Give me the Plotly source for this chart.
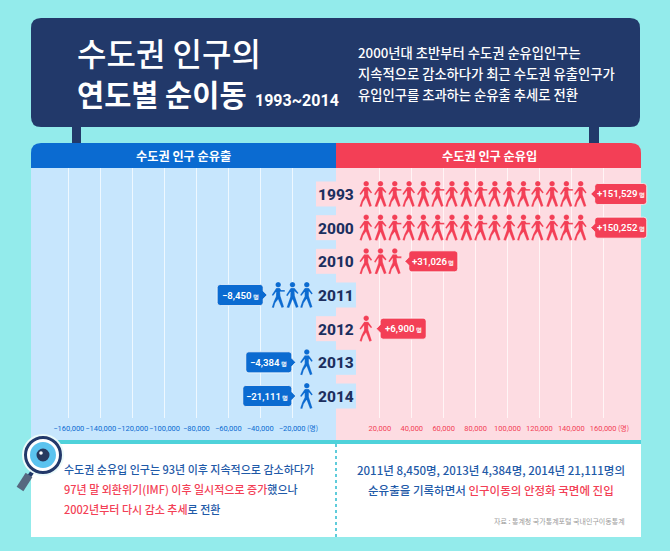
"""Net migration into the capital region by year, 1993-2014."""

import plotly.graph_objs as go

W = 670
H = 551

# data
YEARS = ["1993", "2000", "2010", "2011", "2012", "2013", "2014"]
NET_MIGRATION = [151529, 150252, 31026, -8450, 6900, -4384, -21111]
ICON_COUNTS = [16, 16, 3, 3, 1, 1, 1]
TICKS_RIGHT = [20000, 40000, 60000, 80000, 100000, 120000, 140000, 160000]
TICKS_LEFT = [-160000, -140000, -120000, -100000, -80000, -60000, -40000, -20000]

TITLE_LINES = ["수도권 인구의", "연도별 순이동"]
TITLE_YEARS = "1993~2014"
SUMMARY_LINES = [
    "2000년대 초반부터 수도권 순유입인구는",
    "지속적으로 감소하다가 최근 수도권 유출인구가",
    "유입인구를 초과하는 순유출 추세로 전환",
]
HEADER_OUT = "수도권 인구 순유출"
HEADER_IN = "수도권 인구 순유입"
SOURCE = "자료 : 통계청 국가통계포털 국내인구이동통계"
UNIT = "명"

BG = "#93ebeb"
NAVY = "#22396a"
BLUE = "#0b6bd1"
RED = "#f33f56"
PANEL_BLUE = "#c7e6fd"
PANEL_RED = "#fddce2"
TEAL = "#4fd2da"
TEXT_BLUE = "#1f5aa8"

KR = "Noto Sans CJK KR"
NUM = "Roboto"

# one axis unit in pixels, both panels share it
UNITS_PER_PX = 627.0
ICON_START = 17.7 * UNITS_PER_PX
ICON_STEP = 14.3 * UNITS_PER_PX
X_EDGE_OUTER_LEFT = 183700
X_EDGE_OUTER_RIGHT = 192500  # right axis runs past the panel so the badges are not clipped
X_EDGE_INNER = 7520

HEAD = [(3.3, 10.3), (3.3, 12), (2, 13.1), (0.5, 13.1), (-1, 13.1), (-2.3, 12), (-2.3, 10.3),
        (-2.3, 8.7), (-1, 7.5), (0.5, 7.5), (2, 7.5), (3.3, 8.7), (3.3, 10.3)]
POSES = [
    [(-1.5, -7), (2.5, -7), (6.5, -1.5), (5.3, -0.4), (2.6, -3.5), (2.6, 1), (6.2, 12), (3.7, 13),
     (0.3, 4), (-2.5, 8), (-4, 13), (-6.2, 12.4), (-4.2, 6.5), (-1.7, 1.5), (-1.7, -3), (-5, 1), (-6.3, 0)],
    [(-1.3, -7), (2.6, -7), (6.6, -2), (5.5, -0.9), (2.6, -3.6), (2.9, 1), (6.6, 12), (4, 13),
     (0.6, 4.5), (-2.8, 13), (-5.4, 12.4), (-1.8, 2), (-1.6, -3), (-4.6, 1.3), (-6, 0.3)],
    [(-1.5, -7), (2.2, -7), (3.4, -5), (7.2, -5), (7.2, -3.2), (2.4, -3.2), (2.8, 1), (6.4, 12), (3.9, 13),
     (0.4, 4.4), (-2.4, 8), (-3.8, 13), (-6, 12.4), (-4, 6.5), (-1.8, 1.5), (-1.6, -3), (-4.7, 1), (-6, 0)],
]


def px(x):
    return x / W


def py(y):
    return 1 - y / H


def pose_path(points):
    body = "M " + " L ".join(f"{x},{-y}" for x, y in points) + " Z"
    head = f"M {HEAD[0][0]},{HEAD[0][1]}"
    for i in range(1, len(HEAD), 3):
        head += " C " + " ".join(f"{x},{y}" for x, y in HEAD[i:i + 3])
    return body + " " + head + " Z"


def rounded(x0, y0, x1, y1, r):
    """Rounded rectangle in paper coordinates, given in picture pixels."""
    return (f"M {px(x0)},{py(y0 + r)} Q {px(x0)},{py(y0)} {px(x0 + r)},{py(y0)} L {px(x1 - r)},{py(y0)} "
            f"Q {px(x1)},{py(y0)} {px(x1)},{py(y0 + r)} L {px(x1)},{py(y1 - r)} "
            f"Q {px(x1)},{py(y1)} {px(x1 - r)},{py(y1)} L {px(x0 + r)},{py(y1)} "
            f"Q {px(x0)},{py(y1)} {px(x0)},{py(y1 - r)} Z")


def header_path(x_round, x_flat, y0, y1, r):
    """Header tab: only the outer top corner is rounded."""
    step = r if x_flat > x_round else -r
    return (f"M {px(x_round)},{py(y1)} L {px(x_round)},{py(y0 + r)} "
            f"Q {px(x_round)},{py(y0)} {px(x_round + step)},{py(y0)} "
            f"L {px(x_flat)},{py(y0)} L {px(x_flat)},{py(y1)} Z")


def paper_rect(x0, y0, x1, y1, color, layer="below"):
    return dict(type="rect", xref="paper", yref="paper", x0=px(x0), x1=px(x1), y0=py(y1), y1=py(y0),
                fillcolor=color, line_width=0, layer=layer)


def paper_path(path, color, layer="below"):
    return dict(type="path", xref="paper", yref="paper", path=path, fillcolor=color, line_width=0, layer=layer)


def paper_circle(cx, cy, r, color, line=None, line_width=0, layer="above"):
    return dict(type="circle", xref="paper", yref="paper", x0=px(cx - r), x1=px(cx + r),
                y0=py(cy + r), y1=py(cy - r), fillcolor=color,
                line=dict(color=line or color, width=line_width), layer=layer)


def label(text, x, y, size, color, anchor="left", family=KR, weight=500):
    return dict(text=text, xref="paper", yref="paper", x=px(x), y=py(y), xanchor=anchor, yanchor="middle",
                showarrow=False, font=dict(family=family, size=size, color=color, weight=weight))


shapes = [
    # title board with its two posts
    paper_rect(72, 127, 81, 143, NAVY),
    paper_rect(589, 127, 599, 143, NAVY),
    paper_path(rounded(31, 18, 640, 127, 10), NAVY),
    # panels behind the axes
    paper_rect(31, 168, 336, 440, PANEL_BLUE),
    paper_rect(336, 168, 641, 440, PANEL_RED),
    paper_path(header_path(31, 336, 143, 168, 10), BLUE),
    paper_path(header_path(641, 336, 143, 168, 10), RED),
    # text box under the chart
    paper_rect(31, 444, 641, 537, "white"),
    paper_rect(31, 440, 641, 444, TEAL),
    dict(type="line", xref="paper", yref="paper", x0=px(336), x1=px(336), y0=py(444), y1=py(537),
         line=dict(color="#2dbcd0", width=1.5, dash="dot"), layer="below"),
    # magnifier
    dict(type="line", xref="paper", yref="paper", x0=px(33), y0=py(471), x1=px(28), y1=py(478),
         line=dict(color=NAVY, width=4), layer="above"),
    dict(type="line", xref="paper", yref="paper", x0=px(29), y0=py(475), x1=px(20), y1=py(489),
         line=dict(color="#56677f", width=8), layer="above"),
    paper_circle(43, 455, 20, "white", "#eafafa", 2),
    paper_circle(43, 455, 17.5, "white", NAVY, 3),
    paper_circle(43, 455, 13, "#5bc3ef"),
    paper_circle(43, 455, 6.5, "#27395f"),
    paper_circle(41, 453, 1.8, "white"),
]

annotations = [
    label(TITLE_LINES[0], 75, 52, 32, "white"),
    label(TITLE_LINES[1], 75, 93, 29.5, "white", weight=700),
    label(TITLE_YEARS, 253, 100, 16, "white", family=NUM, weight=700),
    label(SUMMARY_LINES[0], 356, 52, 13.3, "white"),
    label(SUMMARY_LINES[1], 356, 73, 13.3, "white"),
    label(SUMMARY_LINES[2], 356, 94, 13.3, "white"),
    label(HEADER_OUT, 183, 156, 12.2, "white", anchor="center", weight=700),
    label(HEADER_IN, 489, 156, 12.2, "white", anchor="center", weight=700),
    label("수도권 순유입 인구는 93년 이후 지속적으로 감소하다가", 62, 469, 11, TEXT_BLUE),
    label(f"<span style='fill:{RED}'>97년 말 외환위기(IMF) 이후 일시적으로 증가</span>했으나", 62, 489, 11, TEXT_BLUE),
    label(f"<span style='fill:{RED}'>2002년부터 다시 감소 추세</span>로 전환", 62, 509, 11, TEXT_BLUE),
    label("2011년 8,450명, 2013년 4,384명, 2014년 21,111명의", 491, 470, 11.5, TEXT_BLUE, anchor="center"),
    label(f"순유출을 기록하면서 <span style='fill:{RED}'>인구이동의 안정화 국면에 진입</span>", 491, 490, 11.5, TEXT_BLUE,
          anchor="center"),
    label(SOURCE, 627, 521, 7, "#9a9a9a", anchor="right", weight=400),
    dict(text=f"({UNIT})", xref="x", yref="paper", x=TICKS_LEFT[-1], y=py(428), xshift=20, xanchor="center",
         yanchor="middle", showarrow=False, font=dict(family=KR, size=7, color=BLUE)),
    dict(text=f"({UNIT})", xref="x2", yref="paper", x=TICKS_RIGHT[-1], y=py(428), xshift=20, xanchor="center",
         yanchor="middle", showarrow=False, font=dict(family=KR, size=7, color=RED)),
]

anchors = {"x": ([], [], []), "x2": ([], [], [])}

for row, (year, value, count) in enumerate(zip(YEARS, NET_MIGRATION, ICON_COUNTS)):
    sign = 1 if value > 0 else -1
    xref = "x2" if value > 0 else "x"
    color = RED if value > 0 else BLUE
    band = PANEL_RED if value > 0 else PANEL_BLUE

    # the year's band reaches across the middle of the chart
    x0, x1 = (316, 336) if value > 0 else (336, 356)
    shapes.append(dict(type="rect", xref="paper", yref="y", x0=px(x0), x1=px(x1), ysizemode="pixel", yanchor=row,
                       y0=-12.5, y1=12.5, fillcolor=band, line_width=0, layer="below"))
    annotations.append(dict(text=year, xref="paper", yref="y", x=px(336), y=row, yshift=-1, xanchor="center",
                            yanchor="middle", showarrow=False,
                            font=dict(family=NUM, size=15.5, color="#1c2f5f", weight=800)))

    last_x = 0
    for i in range(count):
        x_val = sign * (ICON_START + i * ICON_STEP)
        last_x = x_val
        anchors[xref][0].append(x_val)
        anchors[xref][1].append(year)
        anchors[xref][2].append(f"{value:+,}")
        shapes.append(dict(type="path", xref=xref, yref="y", xsizemode="pixel", ysizemode="pixel",
                           xanchor=x_val, yanchor=row, path=pose_path(POSES[i % 3]),
                           fillcolor=color, line=dict(color="rgba(255,255,255,0.45)", width=0.5), layer="above"))

    # value badge next to the last walker
    text = f"{'+' if value > 0 else '−'}{abs(value):,}"
    width = 28 + 3 * len(text)
    a, b = 14.5, 14.5 + width
    badge = (f"M {sign * a},-4 L {sign * (a - 4)},0 L {sign * a},4 L {sign * a},7.5 "
             f"Q {sign * a},10.5 {sign * (a + 3)},10.5 L {sign * (b - 3)},10.5 Q {sign * b},10.5 {sign * b},7.5 "
             f"L {sign * b},-7.5 Q {sign * b},-10.5 {sign * (b - 3)},-10.5 L {sign * (a + 3)},-10.5 "
             f"Q {sign * a},-10.5 {sign * a},-7.5 Z")
    shapes.append(dict(type="path", xref=xref, yref="y", xsizemode="pixel", ysizemode="pixel",
                       xanchor=last_x, yanchor=row, path=badge, fillcolor=color,
                       line=dict(color="rgba(255,255,255,0.7)", width=1), layer="above"))
    annotations.append(dict(text=f"{text}<span style='font-size:5.5px'> {UNIT}</span>", xref=xref, yref="y",
                            x=last_x, y=row, xshift=sign * (a + width / 2), xanchor="center", yanchor="middle",
                            showarrow=False, font=dict(family=NUM, size=9.6, color="white", weight=600)))

data = []
for xref, (xs, ys, texts) in anchors.items():
    data.append(go.Scatter(x=xs, y=ys, xaxis=xref, yaxis="y", mode="markers", hovertext=texts, hoverinfo="text",
                           marker=dict(size=14, opacity=0)))

axis_common = dict(showgrid=True, gridcolor="rgba(255,255,255,0.7)", gridwidth=1, zeroline=False, showline=False,
                   ticks="", anchor="y", fixedrange=True, tickangle=0, ticklabelstandoff=4)

fig = go.Figure(data=data)
fig.update_layout(
    width=W,
    height=H,
    margin=dict(l=0, r=0, t=0, b=0),
    paper_bgcolor=BG,
    plot_bgcolor="rgba(0,0,0,0)",
    showlegend=False,
    shapes=shapes,
    annotations=annotations,
    xaxis=dict(domain=[px(31), px(336)], range=[-X_EDGE_OUTER_LEFT, X_EDGE_INNER], tickvals=TICKS_LEFT,
               ticktext=[f"−{abs(v):,}" for v in TICKS_LEFT], tickfont=dict(family=NUM, size=7.5, color=BLUE),
               **axis_common),
    xaxis2=dict(domain=[px(336), px(655)], range=[-X_EDGE_INNER, X_EDGE_OUTER_RIGHT], tickvals=TICKS_RIGHT,
                ticktext=[f"{v:,}" for v in TICKS_RIGHT], tickfont=dict(family=NUM, size=7.5, color=RED),
                **axis_common),
    yaxis=dict(domain=[py(418), py(168)], type="category", categoryorder="array", categoryarray=YEARS,
               range=[6.653, -0.772], visible=False, fixedrange=True),
)

fig.write_html("out.html", config=dict(displayModeBar=False), post_script="document.body.style.margin='0';")
